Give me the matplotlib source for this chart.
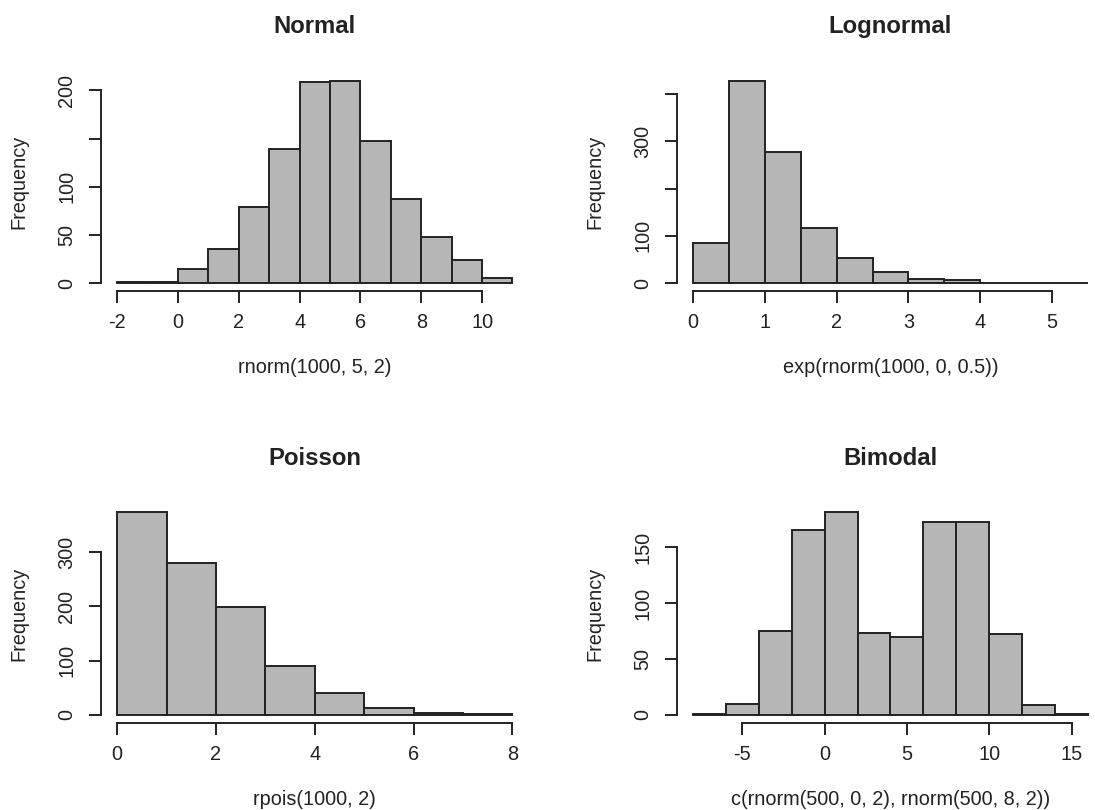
import numpy as np
import matplotlib
matplotlib.use('Agg')
import matplotlib.pyplot as plt

plt.rcParams['font.family'] = ['Liberation Sans', 'DejaVu Sans']

# histogram breaks and counts
normal_breaks = [-2, -1, 0, 1, 2, 3, 4, 5, 6, 7, 8, 9, 10, 11]
normal_counts = [1, 1, 15, 35, 79, 139, 209, 210, 147, 87, 48, 24, 5]

lognormal_breaks = [0, 0.5, 1, 1.5, 2, 2.5, 3, 3.5, 4, 4.5, 5, 5.5]
lognormal_counts = [85, 428, 278, 116, 53, 24, 9, 6, 0, 0, 1]

poisson_breaks = [0, 1, 2, 3, 4, 5, 6, 7, 8]
poisson_counts = [373, 280, 198, 90, 41, 13, 4, 1]

bimodal_breaks = [-8, -6, -4, -2, 0, 2, 4, 6, 8, 10, 12, 14, 16]
bimodal_counts = [1, 10, 75, 165, 181, 73, 70, 172, 172, 72, 9, 1]

normal_xticks = [-2, 0, 2, 4, 6, 8, 10]
normal_yticks = [0, 50, 100, 150, 200]
normal_ylabels = ['0', '50', '100', '', '200']

lognormal_xticks = [0, 1, 2, 3, 4, 5]
lognormal_yticks = [0, 100, 200, 300, 400]
lognormal_ylabels = ['0', '100', '', '300', '']

poisson_xticks = [0, 2, 4, 6, 8]
poisson_yticks = [0, 100, 200, 300]
poisson_ylabels = ['0', '100', '200', '300']

bimodal_xticks = [-5, 0, 5, 10, 15]
bimodal_yticks = [0, 50, 100, 150]
bimodal_ylabels = ['0', '50', '100', '150']

W, H = 1095, 810
fig = plt.figure(figsize=(W / 100, H / 100), dpi=100)

INK = '#222222'
FILL = '#b6b6b6'
LW = 1.4
FS = 14.3


def draw_hist(left_px, top_px, breaks, counts, title, xlabel, xticks, yticks, ylabels):
    # plot region in pixels (the right column runs past the picture edge, as in the reference)
    w_px, h_px = 427, 218.6
    ax = fig.add_axes([left_px / W, 1 - (top_px + h_px) / H, w_px / W, h_px / H])

    widths = np.diff(breaks)
    ax.bar(breaks[:-1], counts, width=widths, align='edge',
           color=FILL, edgecolor=INK, linewidth=LW)

    x0, x1 = breaks[0], breaks[-1]
    xpad = 0.04 * (x1 - x0)
    ax.set_xlim(x0 - xpad, x1 + xpad)
    ymax = max(counts)
    ax.set_ylim(-0.04 * ymax, 1.04 * ymax)

    for s in ['top', 'right']:
        ax.spines[s].set_visible(False)
    for s in ['left', 'bottom']:
        ax.spines[s].set_color(INK)
        ax.spines[s].set_linewidth(LW)
    ax.spines['bottom'].set_bounds(xticks[0], xticks[-1])
    ax.spines['left'].set_bounds(yticks[0], yticks[-1])

    ax.set_xticks(xticks)
    ax.set_xticklabels([str(t) for t in xticks])
    ax.set_yticks(yticks)
    ax.set_yticklabels(ylabels)
    ax.tick_params(axis='both', direction='out', length=8.6, width=LW,
                   color=INK, labelcolor=INK, labelsize=FS)
    ax.tick_params(axis='x', pad=7.2)
    ax.tick_params(axis='y', pad=9.4)
    plt.setp(ax.get_yticklabels(), rotation=90, va='center', ha='right')

    ax.set_title(title, fontsize=17.2, fontweight='bold', color=INK,
                 y=1 + 39.6 / h_px, va='baseline', pad=0)
    ax.set_xlabel(xlabel, fontsize=FS, color=INK, va='center')
    ax.xaxis.set_label_coords(0.5, -76.4 / h_px)
    ax.set_ylabel('Frequency', fontsize=FS, color=INK, va='center')
    ax.yaxis.set_label_coords(-82.3 / w_px, 0.5)
    return ax


draw_hist(101.3, 72.6, normal_breaks, normal_counts, 'Normal',
          'rnorm(1000, 5, 2)', normal_xticks, normal_yticks, normal_ylabels)
draw_hist(677, 72.6, lognormal_breaks, lognormal_counts, 'Lognormal',
          'exp(rnorm(1000, 0, 0.5))', lognormal_xticks, lognormal_yticks, lognormal_ylabels)
draw_hist(101.3, 504.3, poisson_breaks, poisson_counts, 'Poisson',
          'rpois(1000, 2)', poisson_xticks, poisson_yticks, poisson_ylabels)
draw_hist(677, 504.3, bimodal_breaks, bimodal_counts, 'Bimodal',
          'c(rnorm(500, 0, 2), rnorm(500, 8, 2))', bimodal_xticks, bimodal_yticks, bimodal_ylabels)

fig.savefig('out.png', dpi=100)
